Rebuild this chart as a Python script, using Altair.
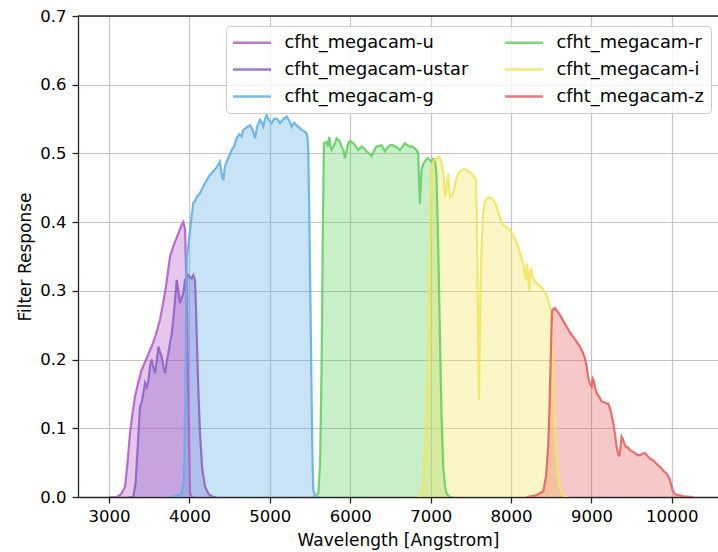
import altair as alt
import pandas as pd

# ---- data ----
u_wave = [3000, 3096, 3150, 3199, 3230, 3261, 3290, 3323, 3360, 3406, 3460, 3530, 3580, 3634, 3700,
          3759, 3800, 3850, 3900, 3924, 3945, 3965, 3986, 4007, 4030, 4060]
u_resp = [0.0, 0.0, 0.004, 0.015, 0.05, 0.093, 0.12, 0.146, 0.165, 0.185, 0.2, 0.219, 0.235, 0.258, 0.3,
          0.35, 0.365, 0.38, 0.395, 0.40, 0.39, 0.30, 0.14, 0.006, 0.0, 0.0]

ustar_wave = [3240, 3302, 3330, 3360, 3385, 3410, 3448, 3470, 3490, 3510, 3530, 3550, 3572, 3595, 3614,
              3635, 3655, 3675, 3697, 3715, 3738, 3760, 3780, 3800, 3821, 3842, 3862, 3883, 3904, 3924,
              3945, 3966, 3986, 4007, 4028, 4048, 4069, 4080, 4090, 4110, 4131, 4160, 4194, 4240, 4293, 4330]
ustar_resp = [0.0, 0.0, 0.02, 0.08, 0.131, 0.14, 0.166, 0.16, 0.17, 0.19, 0.2, 0.19, 0.18, 0.2, 0.219,
              0.21, 0.204, 0.19, 0.18, 0.195, 0.21, 0.225, 0.238, 0.26, 0.287, 0.316, 0.30, 0.282, 0.29, 0.297,
              0.316, 0.318, 0.323, 0.32, 0.318, 0.323, 0.316, 0.28, 0.238, 0.16, 0.093, 0.04, 0.015, 0.004, 0.0, 0.0]

g_wave = [3780, 3850, 3900, 3930, 3950, 3966, 3980, 4000, 4028, 4048, 4069, 4090, 4120, 4152, 4183, 4214,
          4250, 4297, 4340, 4380, 4400, 4421, 4440, 4463, 4490, 4525, 4555, 4587, 4620, 4650, 4670, 4710,
          4753, 4785, 4815, 4845, 4877, 4900, 4918, 4940, 4960, 4990, 5022, 5050, 5084, 5105, 5126, 5170,
          5209, 5240, 5271, 5300, 5333, 5365, 5395, 5430, 5458, 5470, 5478, 5490, 5499, 5510, 5520, 5530,
          5540, 5560, 5582, 5620]
g_resp = [0.0, 0.002, 0.005, 0.02, 0.15, 0.35, 0.36, 0.38, 0.41, 0.428, 0.43, 0.437, 0.44, 0.447, 0.455, 0.461,
          0.468, 0.474, 0.48, 0.488, 0.47, 0.461, 0.48, 0.488, 0.495, 0.505, 0.51, 0.522, 0.528, 0.525, 0.534, 0.538,
          0.541, 0.535, 0.522, 0.54, 0.549, 0.545, 0.539, 0.55, 0.556, 0.548, 0.544, 0.55, 0.551, 0.548, 0.544, 0.55,
          0.554, 0.548, 0.539, 0.545, 0.541, 0.538, 0.534, 0.532, 0.529, 0.52, 0.505, 0.42, 0.335, 0.24, 0.141, 0.06,
          0.01, 0.003, 0.0, 0.0]

r_wave = [5540, 5603, 5625, 5644, 5660, 5673, 5706, 5725, 5739, 5755, 5768, 5790, 5810, 5831, 5850, 5872,
          5893, 5914, 5934, 5955, 5976, 6000, 6038, 6070, 6100, 6142, 6175, 6204, 6235, 6266, 6300, 6328,
          6360, 6390, 6410, 6432, 6460, 6494, 6525, 6556, 6590, 6618, 6650, 6680, 6710, 6742, 6775, 6804,
          6830, 6846, 6856, 6866, 6876, 6887, 6910, 6928, 6950, 6970, 6990, 7011, 7030, 7053, 7065, 7074,
          7095, 7115, 7135, 7157, 7180, 7198, 7240, 7280]
r_resp = [0.0, 0.005, 0.05, 0.19, 0.4, 0.515, 0.517, 0.51, 0.524, 0.51, 0.505, 0.51, 0.515, 0.522, 0.52, 0.517,
          0.51, 0.505, 0.493, 0.505, 0.515, 0.518, 0.515, 0.51, 0.505, 0.51, 0.507, 0.503, 0.5, 0.496, 0.505, 0.51,
          0.511, 0.512, 0.508, 0.503, 0.508, 0.512, 0.512, 0.51, 0.508, 0.505, 0.51, 0.515, 0.512, 0.51, 0.51, 0.507,
          0.504, 0.5, 0.46, 0.427, 0.45, 0.476, 0.485, 0.488, 0.492, 0.493, 0.49, 0.488, 0.492, 0.49, 0.48, 0.466,
          0.36, 0.238, 0.12, 0.044, 0.015, 0.005, 0.0, 0.0]

i_wave = [6830, 6887, 6920, 6949, 6970, 6990, 7000, 7011, 7040, 7074, 7095, 7115, 7140, 7157, 7172, 7185,
          7200, 7219, 7230, 7240, 7260, 7281, 7300, 7323, 7350, 7385, 7420, 7447, 7480, 7509, 7540, 7562,
          7572, 7579, 7590, 7600, 7610, 7620, 7635, 7653, 7675, 7694, 7725, 7757, 7790, 7819, 7840, 7861,
          7880, 7902, 7930, 7964, 7995, 8026, 8058, 8089, 8120, 8151, 8170, 8184, 8192, 8201, 8212, 8226,
          8236, 8247, 8270, 8297, 8340, 8380, 8410, 8442, 8465, 8483, 8494, 8504, 8515, 8525, 8540, 8558,
          8580, 8600, 8635, 8670, 8720]
i_resp = [0.0, 0.003, 0.03, 0.112, 0.23, 0.355, 0.43, 0.48, 0.49, 0.493, 0.495, 0.493, 0.485, 0.471, 0.45, 0.437,
          0.455, 0.471, 0.45, 0.437, 0.438, 0.442, 0.455, 0.464, 0.472, 0.476, 0.477, 0.476, 0.473, 0.471, 0.466, 0.461,
          0.42, 0.355, 0.25, 0.141, 0.22, 0.306, 0.37, 0.413, 0.43, 0.435, 0.436, 0.435, 0.43, 0.423, 0.415, 0.408,
          0.4, 0.396, 0.394, 0.391, 0.387, 0.381, 0.373, 0.364, 0.352, 0.34, 0.325, 0.316, 0.33, 0.34, 0.32, 0.301,
          0.325, 0.333, 0.32, 0.313, 0.309, 0.306, 0.3, 0.294, 0.285, 0.277, 0.265, 0.248, 0.2, 0.161, 0.11, 0.064,
          0.035, 0.015, 0.004, 0.0, 0.0]

z_wave = [8193, 8300, 8400, 8435, 8462, 8478, 8492, 8502, 8512, 8545, 8575, 8608, 8650, 8691, 8730, 8774,
          8815, 8857, 8890, 8919, 8940, 8960, 8980, 9002, 9015, 9031, 9048, 9064, 9095, 9127, 9160, 9189,
          9210, 9230, 9250, 9272, 9295, 9313, 9330, 9346, 9362, 9375, 9388, 9408, 9429, 9455, 9479, 9510,
          9541, 9570, 9603, 9635, 9665, 9695, 9727, 9760, 9789, 9820, 9852, 9895, 9935, 9955, 9976, 9995,
          10009, 10035, 10059, 10150, 10266]
z_resp = [0.0, 0.002, 0.008, 0.03, 0.073, 0.13, 0.195, 0.24, 0.272, 0.275, 0.27, 0.265, 0.256, 0.248, 0.24, 0.233,
          0.226, 0.219, 0.211, 0.202, 0.19, 0.173, 0.165, 0.161, 0.172, 0.168, 0.158, 0.151, 0.146, 0.139, 0.138, 0.136,
          0.136, 0.129, 0.12, 0.107, 0.09, 0.073, 0.064, 0.059, 0.072, 0.088, 0.085, 0.078, 0.073, 0.072, 0.068, 0.066,
          0.064, 0.061, 0.061, 0.063, 0.064, 0.06, 0.056, 0.054, 0.051, 0.047, 0.044, 0.038, 0.034, 0.03, 0.025, 0.016,
          0.01, 0.005, 0.003, 0.001, 0.0]

filter_names = ["cfht_megacam-u", "cfht_megacam-ustar", "cfht_megacam-g",
                "cfht_megacam-r", "cfht_megacam-i", "cfht_megacam-z"]
filter_colors = ["#B45FC8", "#8F62C8", "#62B0E6", "#62D062", "#F1E55C", "#E56262"]
x_ticks = [3000, 4000, 5000, 6000, 7000, 8000, 9000, 10000]
y_ticks = [0.0, 0.1, 0.2, 0.3, 0.4, 0.5, 0.6, 0.7]

series = [(u_wave, u_resp), (ustar_wave, ustar_resp), (g_wave, g_resp),
          (r_wave, r_resp), (i_wave, i_resp), (z_wave, z_resp)]
rows = []
for name, (w, r) in zip(filter_names, series):
    for wi, ri in zip(w, r):
        rows.append({"filter": name, "wavelength": wi, "response": ri})
df = pd.DataFrame(rows)

color_scale = alt.Scale(domain=filter_names, range=filter_colors)

W, H = 640, 481
FONT = "DejaVu Sans"

x_enc = alt.X("wavelength:Q",
              scale=alt.Scale(domain=[2614, 10574], nice=False, zero=False),
              axis=alt.Axis(values=x_ticks, format="d", title="Wavelength [Angstrom]",
                            labelFontSize=16.5, titleFontSize=17, titlePadding=8,
                            tickSize=6, labelPadding=5, labelFlush=False))
y_enc = alt.Y("response:Q", stack=None,
              scale=alt.Scale(domain=[0, 0.7], nice=False, zero=False),
              axis=alt.Axis(values=y_ticks, format=".1f", title="Filter Response",
                            labelFontSize=16.5, titleFontSize=17, titlePadding=5,
                            tickSize=6, labelPadding=6, labelFlush=False))

area = alt.Chart(df).mark_area(opacity=0.35, clip=True).encode(
    x=x_enc, y=y_enc,
    color=alt.Color("filter:N", scale=color_scale, legend=None),
)

line = alt.Chart(df).mark_line(strokeWidth=2.2, opacity=0.9, clip=True).encode(
    x=x_enc, y=y_enc,
    color=alt.Color("filter:N", scale=color_scale, legend=alt.Legend(
        title=None, orient="none", legendX=148, legendY=10, columns=2,
        symbolType="M-2.375,0H2.375", symbolSize=256, symbolStrokeWidth=2.5,
        symbolOffset=9.5, symbolOpacity=0.85, labelOffset=23,
        labelFontSize=17.8, labelLimit=400, labelColor="#000000", labelFont=FONT,
        rowPadding=8, columnPadding=31, padding=7,
        fillColor="rgba(255,255,255,0.8)", strokeColor="#cccccc", cornerRadius=4,
    )),
)

top_spine = alt.Chart(alt.Data(values=[{"k": 1}])).mark_rule(
    color="#222222", strokeWidth=1.3
).encode(x=alt.value(0), x2=alt.value(W), y=alt.value(0))

chart = alt.layer(area, line, top_spine).resolve_legend(
    color="independent"
).properties(
    width=W, height=H,
    padding={"left": 78, "top": 16, "right": 0, "bottom": 55},
    autosize=alt.AutoSizeParams(type="none"),
).configure(
    font=FONT,
).configure_view(
    stroke=None,
).configure_axis(
    labelColor="#000000", titleColor="#000000", titleFontWeight="normal",
    labelFont=FONT, titleFont=FONT,
    domainColor="#222222", domainWidth=1.3, tickColor="#222222", tickWidth=1.3,
    gridColor="#c4c4c4", gridWidth=1.2, grid=True,
)

chart.save("out.html", embed_options={"renderer": "svg", "actions": False})
